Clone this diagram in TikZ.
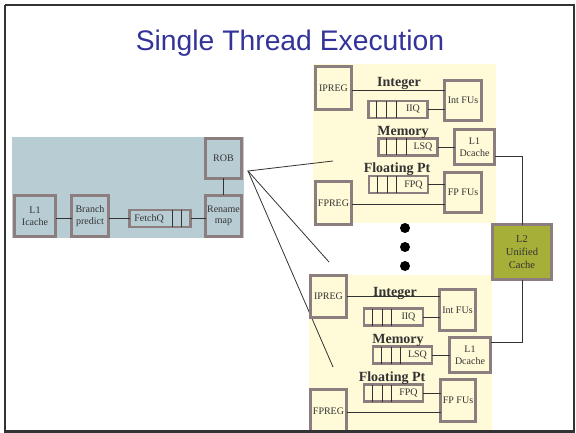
\documentclass[tikz,border=0pt]{standalone}
\usepackage{fontspec}
\setmainfont{Liberation Serif}
\newfontfamily\titlefont{Liberation Sans}
\usetikzlibrary{calc}
\definecolor{panelblue}{RGB}{184,204,212}
\definecolor{panelyel}{RGB}{255,250,216}
\definecolor{boxedge}{RGB}{140,126,126}
\definecolor{olivecache}{RGB}{166,175,56}
\definecolor{titleblue}{RGB}{51,51,153}
\definecolor{ink}{RGB}{51,51,51}
\newcommand{\qyel}[4]{%
  \node[ybox, minimum width=59pt, minimum height=17pt] (#1) at (#2,#3) {};
  \foreach \d in {8,18,27.5} \draw[divl] ([xshift=\d pt]#1.north west) -- ([xshift=\d pt]#1.south west);
  \node[txt] at ([xshift=15pt]#1.center) {#4};}
\begin{document}
\begin{tikzpicture}[x=1pt,y=-1pt,
  boxbase/.style={draw=boxedge, line width=2.6pt, inner sep=0pt, outer sep=0pt, align=center,
    font=\fontsize{10}{11.5}\selectfont, text=ink},
  ybox/.style={boxbase, fill=panelyel},
  bbox/.style={boxbase, fill=panelblue},
  l2box/.style={boxbase, fill=olivecache, font=\fontsize{10.5}{13}\selectfont},
  txt/.style={font=\fontsize{10}{11.5}\selectfont, text=ink, inner sep=0pt},
  grp/.style={font=\bfseries\fontsize{14}{16}\selectfont, text=ink, anchor=base, inner sep=0pt},
  divl/.style={draw=ink, line width=0.7pt},
  conn/.style={draw=ink, line width=0.8pt},
  dot/.style={circle, fill=black, minimum size=10pt, inner sep=0pt}]
\useasboundingbox (0,0) rectangle (576,433);

% title
\node[font=\titlefont\fontsize{28.3}{30}\selectfont, text=titleblue, anchor=base, inner sep=0pt] (title) at (290,51) {Single Thread Execution};

% panels
\fill[panelblue] (12,137) rectangle (244,238);
\fill[panelyel] (313,64) rectangle (496,223);
\fill[panelyel] (309,275) rectangle (492,431);

% front end
\node[bbox, minimum width=41pt, minimum height=41pt] (icache) at (35,216) {L1\\Icache};
\node[bbox, minimum width=37pt, minimum height=41pt] (bpred) at (90,216) {Branch\\predict};
\node[bbox, minimum width=61pt, minimum height=17pt] (fetchq) at (160,218.5) {};
\foreach \d in {42.5,51.5} \draw[divl] ([xshift=\d pt]fetchq.north west) -- ([xshift=\d pt]fetchq.south west);
\node[txt] at ([xshift=-11pt]fetchq.center) {FetchQ};
\node[bbox, minimum width=36pt, minimum height=41pt] (rename) at (223.5,216) {Rename\\map};
\node[bbox, minimum width=36pt, minimum height=40pt] (rob) at (223.5,158.5) {ROB};
\draw[conn] ([yshift=-2pt]icache.east) -- ([yshift=-2pt]bpred.west);
\draw[conn] (fetchq.west -| bpred.east) -- (fetchq.west);
\draw[conn] (fetchq.east) -- (fetchq.east -| rename.west);
\draw[conn] (rob) -- (rename);

% fan from ROB
\coordinate (apex) at (248,171);
\coordinate (f1) at (333,161);
\coordinate (f2) at (329,262);
\coordinate (f3) at (333,367);
\draw[conn] (f1) -- (apex) -- (f2);
\draw[conn] (apex) -- (f3);

% upper cluster
\node[ybox, minimum width=36pt, minimum height=43pt] (ipreg1) at (333.5,88) {IPREG};
\node[ybox, minimum width=37pt, minimum height=40pt] (intfu1) at (463,100.5) {Int FUs};
\qyel{iiq1}{398}{109.5}{IIQ}
\qyel{lsq1}{408}{147}{LSQ}
\node[ybox, minimum width=40pt, minimum height=35pt] (dc1) at (474.5,147) {L1\\Dcache};
\qyel{fpq1}{398.5}{184.5}{FPQ}
\node[ybox, minimum width=37pt, minimum height=40pt] (fpfu1) at (463,192.5) {FP FUs};
\node[ybox, minimum width=36pt, minimum height=43pt] (fpreg1) at (333.5,203) {FPREG};
\node[grp] (int1) at (399,87) {Integer};
\node[grp] (mem1) at (403,136) {Memory};
\node[grp] (fp1) at (397,173) {Floating Pt};
\draw[conn] ([yshift=-2pt]ipreg1.east) -- ([yshift=-2pt]ipreg1.east -| intfu1.west);
\draw[conn] (iiq1.east) -- (iiq1.east -| intfu1.west);
\draw[conn] (lsq1) -- (dc1);
\draw[conn] (fpq1.east) -- (fpq1.east -| fpfu1.west);
\draw[conn] ([yshift=-1pt]fpreg1.east) -- ([yshift=-1pt]fpreg1.east -| fpfu1.west);

% dots
\node[dot] (d1) at (405,228) {};
\node[dot] (d2) at (405,247) {};
\node[dot] (d3) at (405,266) {};

% lower cluster
\node[ybox, minimum width=36pt, minimum height=42pt] (ipreg2) at (328.5,296.5) {IPREG};
\node[ybox, minimum width=36pt, minimum height=41pt] (intfu2) at (457.5,310) {Int FUs};
\qyel{iiq2}{393.5}{317}{IIQ}
\qyel{lsq2}{402.5}{355}{LSQ}
\node[ybox, minimum width=41pt, minimum height=35pt] (dc2) at (470,355) {L1\\Dcache};
\qyel{fpq2}{393.5}{393}{FPQ}
\node[ybox, minimum width=35pt, minimum height=42pt] (fpfu2) at (458,400.5) {FP FUs};
\node[ybox, minimum width=36pt, minimum height=43pt] (fpreg2) at (328.5,411) {FPREG};
\node[grp] (int2) at (395,296) {Integer};
\node[grp] (mem2) at (398,343) {Memory};
\node[grp] (fp2) at (392,381) {Floating Pt};
\draw[conn] (ipreg2.east) -- (ipreg2.east -| intfu2.west);
\draw[conn] (iiq2.east) -- (iiq2.east -| intfu2.west);
\draw[conn] (lsq2) -- (dc2);
\draw[conn] (fpq2.east) -- (fpq2.east -| fpfu2.west);
\draw[conn] ([yshift=-1pt]fpreg2.east) -- ([yshift=-1pt]fpreg2.east -| fpfu2.west);

% L2
\node[l2box, minimum width=59pt, minimum height=55pt] (l2) at (522,252) {L2\\Unified\\Cache};
\draw[conn] ([yshift=-9pt]dc1.east) -| (l2.north);
\draw[conn] (l2.south) |- ([yshift=13pt]dc2.east);

% slide frame
\fill[white] (0,431) rectangle (576,433);
\draw[draw=ink, line width=2pt] (5,5) -- (574,5) -- (574,430);
\draw[draw=ink, line width=2pt] (5,5) -- (5,431);
\draw[draw=ink, line width=3pt] (4,431.5) -- (575,431.5);
\end{tikzpicture}
\end{document}
